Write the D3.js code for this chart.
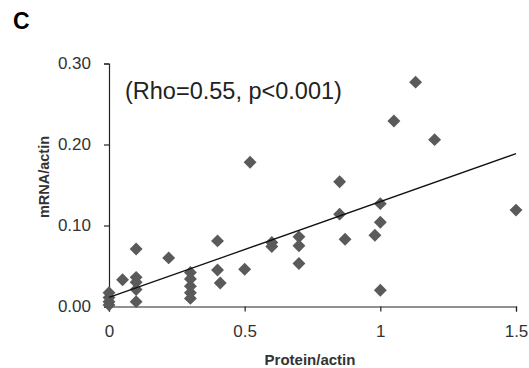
<!DOCTYPE html>
<html>
<head>
<meta charset="utf-8">
<script src="https://cdn.jsdelivr.net/npm/d3@7"></script>
<style>
  body { margin: 0; background: #fff; }
  svg { display: block; }
  .axis path, .axis line { stroke: #222; stroke-width: 1.2px; }
  .axis text { fill: #333; font-family: "Liberation Sans", Arial, sans-serif; font-size: 17px; }
</style>
</head>
<body>
<script>
// protein/actin (x) and mRNA/actin (y)
var protein = [0, 0, 0, 0, 0.05, 0.1, 0.1, 0.1, 0.1, 0.1, 0.22,
               0.3, 0.3, 0.3, 0.3, 0.3, 0.4, 0.4, 0.41, 0.5, 0.52,
               0.6, 0.6, 0.7, 0.7, 0.7, 0.85, 0.85, 0.87, 0.98,
               1, 1, 1, 1.05, 1.13, 1.2, 1.5];
var mrna = [0.017, 0.011, 0.006, 0.002, 0.033, 0.071, 0.036, 0.030, 0.021, 0.006, 0.060,
            0.042, 0.034, 0.025, 0.017, 0.010, 0.081, 0.045, 0.029, 0.046, 0.178,
            0.079, 0.074, 0.086, 0.075, 0.053, 0.154, 0.114, 0.083, 0.088,
            0.127, 0.104, 0.020, 0.229, 0.277, 0.206, 0.119];
var xTicks = [0, 0.5, 1, 1.5];
var yTicks = [0, 0.1, 0.2, 0.3];

var width = 529, height = 368;

var svg = d3.select("body").append("svg")
    .attr("width", width)
    .attr("height", height);

var x = d3.scaleLinear().domain([0, 1.5]).range([109, 516]);
var y = d3.scaleLinear().domain([0, 0.3]).range([306.5, 63.5]);

svg.append("g")
    .attr("class", "axis")
    .attr("transform", "translate(0," + y(0) + ")")
    .call(d3.axisBottom(x).tickValues(xTicks).tickFormat(d3.format("")).tickSize(5).tickPadding(13));

svg.append("g")
    .attr("class", "axis")
    .attr("transform", "translate(" + x(0) + ",0)")
    .call(d3.axisLeft(y).tickValues(yTicks).tickFormat(d3.format(".2f")).tickSize(5).tickPadding(13));

var data = protein.map(function(d, i) { return {x: d, y: mrna[i]}; });

var diamond = d3.symbol().type(d3.symbolDiamond2).size(106);

svg.selectAll(".pt")
    .data(data)
    .enter().append("path")
    .attr("class", "pt")
    .attr("transform", function(d) { return "translate(" + x(d.x) + "," + y(d.y) + ")"; })
    .attr("d", diamond)
    .style("fill", "#5a5a5a");

// least squares trend line
var mx = d3.mean(protein), my = d3.mean(mrna);
var sxy = d3.sum(data, function(d) { return (d.x - mx) * (d.y - my); });
var sxx = d3.sum(data, function(d) { return (d.x - mx) * (d.x - mx); });
var slope = sxy / sxx, icept = my - slope * mx;

svg.append("line")
    .attr("x1", x(0)).attr("y1", y(icept))
    .attr("x2", x(1.5)).attr("y2", y(icept + slope * 1.5))
    .style("stroke", "#111")
    .style("stroke-width", 1.3);

svg.append("text")
    .attr("x", 125)
    .attr("y", 99)
    .style("font-family", "'Liberation Sans', Arial, sans-serif")
    .style("font-size", "23.5px")
    .style("fill", "#222")
    .text("(Rho=0.55, p<0.001)");

svg.append("text")
    .attr("x", 13)
    .attr("y", 29)
    .style("font-family", "'Liberation Sans', Arial, sans-serif")
    .style("font-weight", "bold")
    .style("font-size", "23px")
    .text("C");

svg.append("text")
    .attr("x", 310)
    .attr("y", 365)
    .attr("text-anchor", "middle")
    .style("font-family", "'Liberation Sans', Arial, sans-serif")
    .style("font-weight", "bold")
    .style("font-size", "15px")
    .style("fill", "#333")
    .text("Protein/actin");

svg.append("text")
    .attr("transform", "translate(49,177) rotate(-90)")
    .attr("text-anchor", "middle")
    .style("font-family", "'Liberation Sans', Arial, sans-serif")
    .style("font-weight", "bold")
    .style("font-size", "14.5px")
    .style("fill", "#333")
    .text("mRNA/actin");
</script>
</body>
</html>
